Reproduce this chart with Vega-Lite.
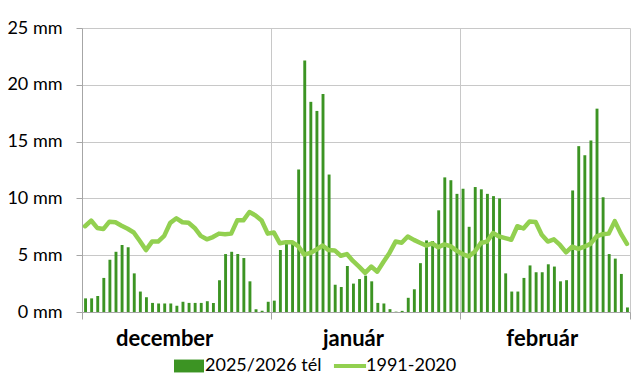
{
  "$schema": "https://vega.github.io/schema/vega-lite/v6.json",
  "autosize": {"type": "none"},
  "padding": {"left": 82, "top": 28, "right": 10, "bottom": 72},
  "width": 548,
  "height": 284,
  "background": "white",
  "config": {"font": "Lato", "view": {"stroke": null}},
  "data": {"values": [
    {"date": "2025-12-01", "p": 1.2, "n": 7.55},
    {"date": "2025-12-02", "p": 1.2, "n": 8.05},
    {"date": "2025-12-03", "p": 1.4, "n": 7.4},
    {"date": "2025-12-04", "p": 3.0, "n": 7.3},
    {"date": "2025-12-05", "p": 4.6, "n": 7.95},
    {"date": "2025-12-06", "p": 5.3, "n": 7.9},
    {"date": "2025-12-07", "p": 5.9, "n": 7.6},
    {"date": "2025-12-08", "p": 5.7, "n": 7.33},
    {"date": "2025-12-09", "p": 3.4, "n": 7.0},
    {"date": "2025-12-10", "p": 1.8, "n": 6.25},
    {"date": "2025-12-11", "p": 1.3, "n": 5.45},
    {"date": "2025-12-12", "p": 0.8, "n": 6.2},
    {"date": "2025-12-13", "p": 0.75, "n": 6.2},
    {"date": "2025-12-14", "p": 0.75, "n": 6.7},
    {"date": "2025-12-15", "p": 0.75, "n": 7.85},
    {"date": "2025-12-16", "p": 0.55, "n": 8.25},
    {"date": "2025-12-17", "p": 0.9, "n": 7.9},
    {"date": "2025-12-18", "p": 0.8, "n": 7.85},
    {"date": "2025-12-19", "p": 0.8, "n": 7.4},
    {"date": "2025-12-20", "p": 0.8, "n": 6.7},
    {"date": "2025-12-21", "p": 0.95, "n": 6.4},
    {"date": "2025-12-22", "p": 0.8, "n": 6.6},
    {"date": "2025-12-23", "p": 2.8, "n": 6.9},
    {"date": "2025-12-24", "p": 5.1, "n": 6.85},
    {"date": "2025-12-25", "p": 5.3, "n": 6.9},
    {"date": "2025-12-26", "p": 5.1, "n": 8.07},
    {"date": "2025-12-27", "p": 4.75, "n": 8.07},
    {"date": "2025-12-28", "p": 2.7, "n": 8.8},
    {"date": "2025-12-29", "p": 0.25, "n": 8.5},
    {"date": "2025-12-30", "p": 0.1, "n": 8.05},
    {"date": "2025-12-31", "p": 0.9, "n": 6.9},
    {"date": "2026-01-01", "p": 1.0, "n": 7.0},
    {"date": "2026-01-02", "p": 5.45, "n": 6.05},
    {"date": "2026-01-03", "p": 6.2, "n": 6.15},
    {"date": "2026-01-04", "p": 6.2, "n": 6.15},
    {"date": "2026-01-05", "p": 12.55, "n": 5.8},
    {"date": "2026-01-06", "p": 22.15, "n": 5.05},
    {"date": "2026-01-07", "p": 18.5, "n": 5.2},
    {"date": "2026-01-08", "p": 17.7, "n": 5.5},
    {"date": "2026-01-09", "p": 19.2, "n": 5.85},
    {"date": "2026-01-10", "p": 12.1, "n": 5.45},
    {"date": "2026-01-11", "p": 2.4, "n": 5.42},
    {"date": "2026-01-12", "p": 2.2, "n": 4.95},
    {"date": "2026-01-13", "p": 4.05, "n": 5.1},
    {"date": "2026-01-14", "p": 2.5, "n": 4.5},
    {"date": "2026-01-15", "p": 2.9, "n": 4.0},
    {"date": "2026-01-16", "p": 3.2, "n": 3.45},
    {"date": "2026-01-17", "p": 2.7, "n": 4.0},
    {"date": "2026-01-18", "p": 0.8, "n": 3.55},
    {"date": "2026-01-19", "p": 0.75, "n": 4.4},
    {"date": "2026-01-20", "p": 0.25, "n": 5.2},
    {"date": "2026-01-21", "p": 0.03, "n": 6.2},
    {"date": "2026-01-22", "p": 0.1, "n": 6.1},
    {"date": "2026-01-23", "p": 1.25, "n": 6.65},
    {"date": "2026-01-24", "p": 2.0, "n": 6.35},
    {"date": "2026-01-25", "p": 4.3, "n": 6.1},
    {"date": "2026-01-26", "p": 6.3, "n": 5.85},
    {"date": "2026-01-27", "p": 6.25, "n": 6.05},
    {"date": "2026-01-28", "p": 8.95, "n": 5.7},
    {"date": "2026-01-29", "p": 11.85, "n": 5.95},
    {"date": "2026-01-30", "p": 11.6, "n": 5.8},
    {"date": "2026-01-31", "p": 10.4, "n": 5.4},
    {"date": "2026-02-01", "p": 10.85, "n": 5.1},
    {"date": "2026-02-02", "p": 7.5, "n": 4.9},
    {"date": "2026-02-03", "p": 11.0, "n": 5.3},
    {"date": "2026-02-04", "p": 10.8, "n": 6.07},
    {"date": "2026-02-05", "p": 10.4, "n": 6.2},
    {"date": "2026-02-06", "p": 10.2, "n": 6.95},
    {"date": "2026-02-07", "p": 10.0, "n": 6.65},
    {"date": "2026-02-08", "p": 3.4, "n": 6.5},
    {"date": "2026-02-09", "p": 1.8, "n": 6.36},
    {"date": "2026-02-10", "p": 1.8, "n": 7.55},
    {"date": "2026-02-11", "p": 3.0, "n": 7.35},
    {"date": "2026-02-12", "p": 4.1, "n": 7.97},
    {"date": "2026-02-13", "p": 3.5, "n": 7.93},
    {"date": "2026-02-14", "p": 3.5, "n": 6.8},
    {"date": "2026-02-15", "p": 4.2, "n": 6.2},
    {"date": "2026-02-16", "p": 4.0, "n": 6.4},
    {"date": "2026-02-17", "p": 2.7, "n": 5.9},
    {"date": "2026-02-18", "p": 2.8, "n": 5.25},
    {"date": "2026-02-19", "p": 10.7, "n": 5.75},
    {"date": "2026-02-20", "p": 14.6, "n": 5.55},
    {"date": "2026-02-21", "p": 13.8, "n": 5.75},
    {"date": "2026-02-22", "p": 15.1, "n": 6.0},
    {"date": "2026-02-23", "p": 17.9, "n": 6.65},
    {"date": "2026-02-24", "p": 10.1, "n": 6.85},
    {"date": "2026-02-25", "p": 5.1, "n": 6.9},
    {"date": "2026-02-26", "p": 4.7, "n": 8.0},
    {"date": "2026-02-27", "p": 3.35, "n": 6.9},
    {"date": "2026-02-28", "p": 0.4, "n": 6.0}
  ]},
  "layer": [
    {
      "mark": {"type": "bar", "width": {"band": 0.64}},
      "encoding": {
        "x": {
          "field": "date", "timeUnit": "utcyearmonthdate", "type": "temporal",
          "scale": {
            "type": "utc", "nice": false, "padding": 0,
            "domain": [{"year": 2025, "month": 12, "date": 1, "utc": true}, {"year": 2026, "month": 3, "date": 1, "utc": true}]
          },
          "axis": {
            "title": null,
            "values": [
              {"year": 2025, "month": 12, "date": 1, "utc": true},
              {"year": 2025, "month": 12, "date": 14, "hours": 12, "utc": true},
              {"year": 2026, "month": 1, "date": 1, "utc": true},
              {"year": 2026, "month": 1, "date": 14, "hours": 12, "utc": true},
              {"year": 2026, "month": 2, "date": 1, "utc": true},
              {"year": 2026, "month": 2, "date": 14, "hours": 12, "utc": true},
              {"year": 2026, "month": 3, "date": 1, "utc": true}
            ],
            "labelExpr": "utcdate(datum.value) == 1 ? '' : (utcmonth(datum.value) == 11 ? 'december' : (utcmonth(datum.value) == 0 ? 'január' : 'február'))",
            "labelFontSize": 22, "labelFontWeight": "bold", "labelColor": "black", "labelFont": "Lato",
            "labelPadding": 9, "labelAngle": 0, "labelFlush": false, "labelOverlap": false, "labelBound": false,
            "tickSize": 7, "tickColor": "#a6a6a6",
            "tickOpacity": {"condition": {"test": "utcdate(datum.value) == 1", "value": 1}, "value": 0},
            "grid": true, "gridColor": "#c8c8c8",
            "gridOpacity": {"condition": {"test": "utcdate(datum.value) == 1", "value": 1}, "value": 0},
            "domainColor": "#a6a6a6"
          }
        },
        "y": {
          "field": "p", "type": "quantitative",
          "scale": {"domain": [0, 25], "nice": false},
          "axis": {
            "title": null, "values": [0, 5, 10, 15, 20, 25],
            "labelExpr": "datum.value + ' mm'",
            "labelFontSize": 18, "labelColor": "black", "labelFont": "Lato", "labelPadding": 14,
            "tickSize": 6, "tickColor": "#a6a6a6", "domainColor": "#a6a6a6",
            "gridColor": "#c8c8c8"
          }
        },
        "color": {
          "datum": "2025/2026 tél", "type": "nominal",
          "scale": {"domain": ["2025/2026 tél", "1991-2020"], "range": ["#3c9423", "#92d050"]},
          "legend": {
            "title": null, "orient": "none", "legendX": 92, "legendY": 323,
            "direction": "horizontal", "symbolSize": 900, "gridAlign": "none",
            "labelFontSize": 18, "labelFont": "Lato", "labelColor": "black",
            "columnPadding": 11, "labelOffset": 1,
            "encode": {
              "symbols": {
                "update": {
                  "shape": {"signal": "datum.value === '1991-2020' ? 'M-1.07,-0.14L1.07,-0.14L1.07,0.14L-1.07,0.14Z' : 'M-1,-0.43L1,-0.43L1,0.43L-1,0.43Z'"},
                  "fill": {"signal": "datum.value === '1991-2020' ? '#92d050' : '#3c9423'"},
                  "stroke": {"value": "transparent"},
                  "strokeWidth": {"value": 0},
                  "opacity": {"value": 1}
                }
              }
            }
          }
        }
      }
    },
    {
      "mark": {"type": "line", "strokeWidth": 4.5, "strokeJoin": "round", "strokeCap": "round"},
      "encoding": {
        "x": {"field": "date", "timeUnit": "utcyearmonthdate", "type": "temporal", "bandPosition": 0.5},
        "y": {"field": "n", "type": "quantitative"},
        "color": {"datum": "1991-2020", "type": "nominal"}
      }
    }
  ]
}
